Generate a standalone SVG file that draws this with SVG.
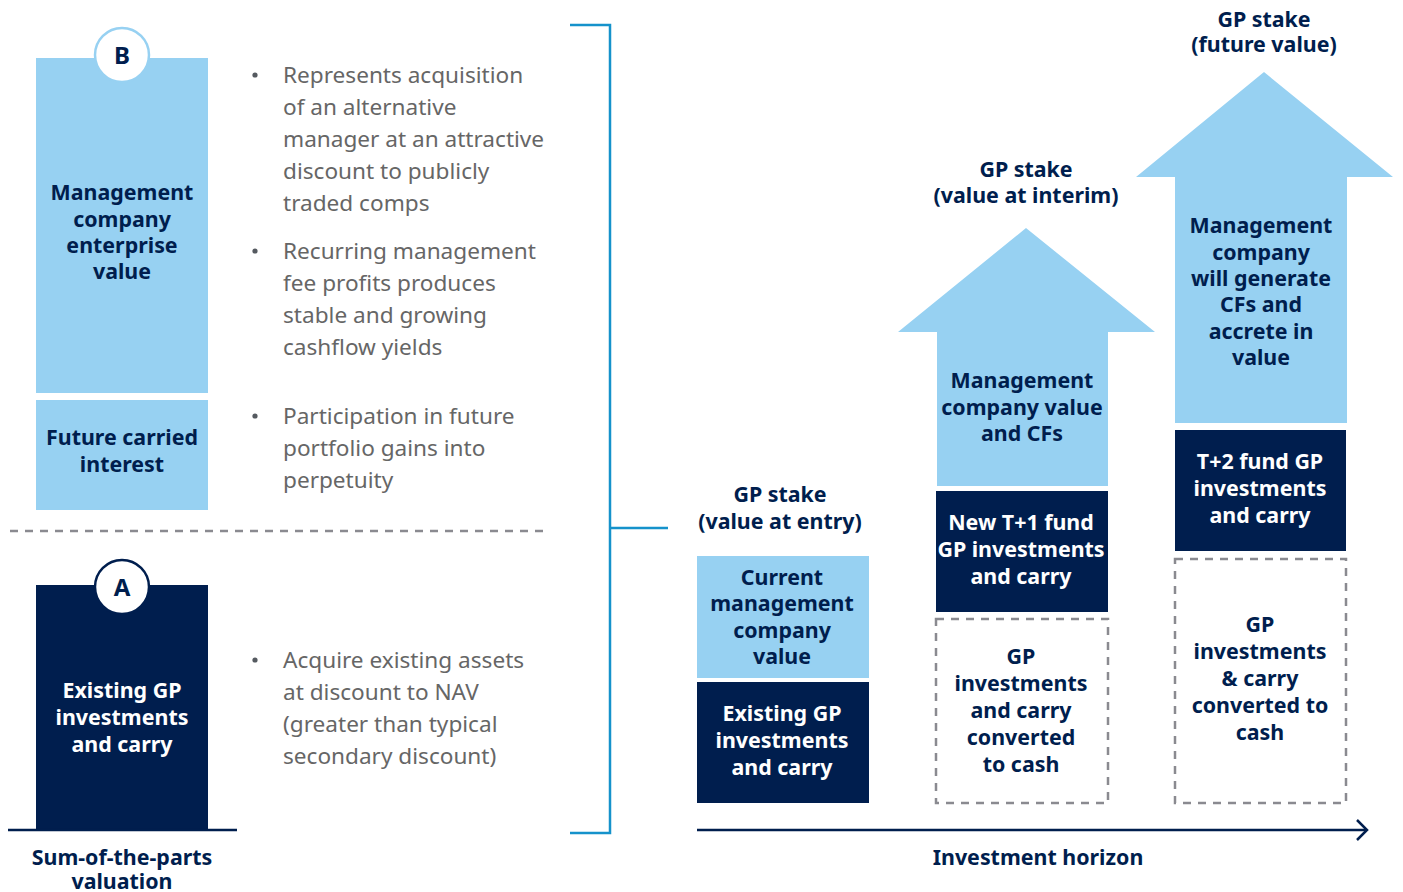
<svg xmlns="http://www.w3.org/2000/svg" width="1403" height="892" viewBox="0 0 1403 892">
  <defs>
    <style>
      .light { fill: #97d1f2; }
      .dark { fill: #001e4e; }
      .lbl { font-family: "Noto Sans", "Open Sans", sans-serif; font-weight: 700; font-size: 21.4px; fill: #001e4e; text-anchor: middle; }
      .lblw { font-family: "Noto Sans", "Open Sans", sans-serif; font-weight: 700; font-size: 21.4px; fill: #ffffff; text-anchor: middle; }
      .bul { font-family: "Noto Sans", "Open Sans", sans-serif; font-size: 22.6px; fill: #666666; }
      .dot { fill: #555a60; }
      .dash { fill: none; stroke: #8a8a90; stroke-width: 2.5; stroke-dasharray: 8 7; }
      .brk { fill: none; stroke: #1592cb; stroke-width: 2.5; }
      .axis { fill: none; stroke: #001e4e; stroke-width: 2.5; }
    </style>
  </defs>
  <rect width="1403" height="892" fill="#ffffff"/>

  <!-- Left: sum-of-the-parts stack -->
  <g id="node-mgmt-ev">
    <rect class="light" x="36" y="58" width="172" height="335"/>
    <text class="lbl" x="122"><tspan x="122" y="200">Management</tspan><tspan x="122" y="227">company</tspan><tspan x="122" y="253">enterprise</tspan><tspan x="122" y="279">value</tspan></text>
  </g>
  <g id="node-badge-b">
    <circle cx="122" cy="55" r="27" fill="#ffffff" stroke="#97d1f2" stroke-width="2.5"/>
    <text class="lbl" x="122" y="64" style="font-size:24px">B</text>
  </g>
  <g id="node-future-carry">
    <rect class="light" x="36" y="400" width="172" height="110"/>
    <text class="lbl" x="122"><tspan x="122" y="445">Future carried</tspan><tspan x="122" y="472">interest</tspan></text>
  </g>
  <line class="dash" x1="10" y1="531" x2="545" y2="531"/>
  <g id="node-existing-left">
    <rect class="dark" x="36" y="585" width="172" height="245"/>
    <text class="lblw" x="122"><tspan x="122" y="698">Existing GP</tspan><tspan x="122" y="725">investments</tspan><tspan x="122" y="752">and carry</tspan></text>
  </g>
  <g id="node-badge-a">
    <circle cx="122" cy="587" r="27" fill="#ffffff" stroke="#001e4e" stroke-width="2.5"/>
    <text class="lbl" x="122" y="596" style="font-size:24px">A</text>
  </g>
  <line class="axis" x1="8" y1="830" x2="237" y2="830"/>
  <text class="lbl" x="122"><tspan x="122" y="865">Sum-of-the-parts</tspan><tspan x="122" y="889">valuation</tspan></text>

  <!-- Bullet notes -->
  <g id="notes">
    <circle class="dot" cx="255" cy="75" r="2.6"/>
    <text class="bul"><tspan x="283" y="83">Represents acquisition</tspan><tspan x="283" y="115">of an alternative</tspan><tspan x="283" y="147">manager at an attractive</tspan><tspan x="283" y="179">discount to publicly</tspan><tspan x="283" y="211">traded comps</tspan></text>
    <circle class="dot" cx="255" cy="251" r="2.6"/>
    <text class="bul"><tspan x="283" y="259">Recurring management</tspan><tspan x="283" y="291">fee profits produces</tspan><tspan x="283" y="323">stable and growing</tspan><tspan x="283" y="355">cashflow yields</tspan></text>
    <circle class="dot" cx="255" cy="416" r="2.6"/>
    <text class="bul"><tspan x="283" y="424">Participation in future</tspan><tspan x="283" y="456">portfolio gains into</tspan><tspan x="283" y="488">perpetuity</tspan></text>
    <circle class="dot" cx="255" cy="660" r="2.6"/>
    <text class="bul"><tspan x="283" y="668">Acquire existing assets</tspan><tspan x="283" y="700">at discount to NAV</tspan><tspan x="283" y="732">(greater than typical</tspan><tspan x="283" y="764">secondary discount)</tspan></text>
  </g>

  <!-- Connectors: bracket and horizon axis -->
  <g id="connectors">
    <polyline class="brk" points="570,25 610,25 610,833 570,833"/>
    <line class="brk" x1="610" y1="528" x2="668" y2="528"/>
    <line class="axis" x1="697" y1="830" x2="1366" y2="830"/>
    <polyline class="axis" points="1357,820 1367,830 1357,840"/>
  </g>

  <!-- Column 1: value at entry -->
  <text class="lbl" x="780"><tspan x="780" y="502">GP stake</tspan><tspan x="780" y="529">(value at entry)</tspan></text>
  <g id="node-current-mgmt">
    <rect class="light" x="697" y="556" width="172" height="122"/>
    <text class="lbl" x="782"><tspan x="782" y="585">Current</tspan><tspan x="782" y="611">management</tspan><tspan x="782" y="638">company</tspan><tspan x="782" y="664">value</tspan></text>
  </g>
  <g id="node-existing-entry">
    <rect class="dark" x="697" y="682" width="172" height="121"/>
    <text class="lblw" x="782"><tspan x="782" y="721">Existing GP</tspan><tspan x="782" y="748">investments</tspan><tspan x="782" y="775">and carry</tspan></text>
  </g>

  <!-- Column 2: value at interim -->
  <text class="lbl" x="1026"><tspan x="1026" y="177">GP stake</tspan><tspan x="1026" y="203">(value at interim)</tspan></text>
  <g id="node-interim-arrow">
    <polygon class="light" points="898,332 1026,228 1155,332 1108,332 1108,486 937,486 937,332"/>
    <text class="lbl" x="1022"><tspan x="1022" y="388">Management</tspan><tspan x="1022" y="415">company value</tspan><tspan x="1022" y="441">and CFs</tspan></text>
  </g>
  <g id="node-t1-fund">
    <rect class="dark" x="936" y="491" width="172" height="121"/>
    <text class="lblw" x="1021"><tspan x="1021" y="530">New T+1 fund</tspan><tspan x="1021" y="557">GP investments</tspan><tspan x="1021" y="584">and carry</tspan></text>
  </g>
  <g id="node-cash-interim">
    <rect class="dash" x="936" y="619" width="172" height="184"/>
    <text class="lbl" x="1021"><tspan x="1021" y="664">GP</tspan><tspan x="1021" y="691">investments</tspan><tspan x="1021" y="718">and carry</tspan><tspan x="1021" y="745">converted</tspan><tspan x="1021" y="772">to cash</tspan></text>
  </g>

  <!-- Column 3: future value -->
  <text class="lbl" x="1264"><tspan x="1264" y="27">GP stake</tspan><tspan x="1264" y="52">(future value)</tspan></text>
  <g id="node-future-arrow">
    <polygon class="light" points="1136,177 1264,72 1393,177 1347,177 1347,423 1175,423 1175,177"/>
    <text class="lbl" x="1261"><tspan x="1261" y="233">Management</tspan><tspan x="1261" y="260">company</tspan><tspan x="1261" y="286">will generate</tspan><tspan x="1261" y="312">CFs and</tspan><tspan x="1261" y="339">accrete in</tspan><tspan x="1261" y="365">value</tspan></text>
  </g>
  <g id="node-t2-fund">
    <rect class="dark" x="1175" y="430" width="171" height="121"/>
    <text class="lblw" x="1260"><tspan x="1260" y="469">T+2 fund GP</tspan><tspan x="1260" y="496">investments</tspan><tspan x="1260" y="523">and carry</tspan></text>
  </g>
  <g id="node-cash-future">
    <rect class="dash" x="1175" y="559" width="171" height="244"/>
    <text class="lbl" x="1260"><tspan x="1260" y="632">GP</tspan><tspan x="1260" y="659">investments</tspan><tspan x="1260" y="686">&amp; carry</tspan><tspan x="1260" y="713">converted to</tspan><tspan x="1260" y="740">cash</tspan></text>
  </g>

  <text class="lbl" x="1038" y="865">Investment horizon</text>
</svg>
